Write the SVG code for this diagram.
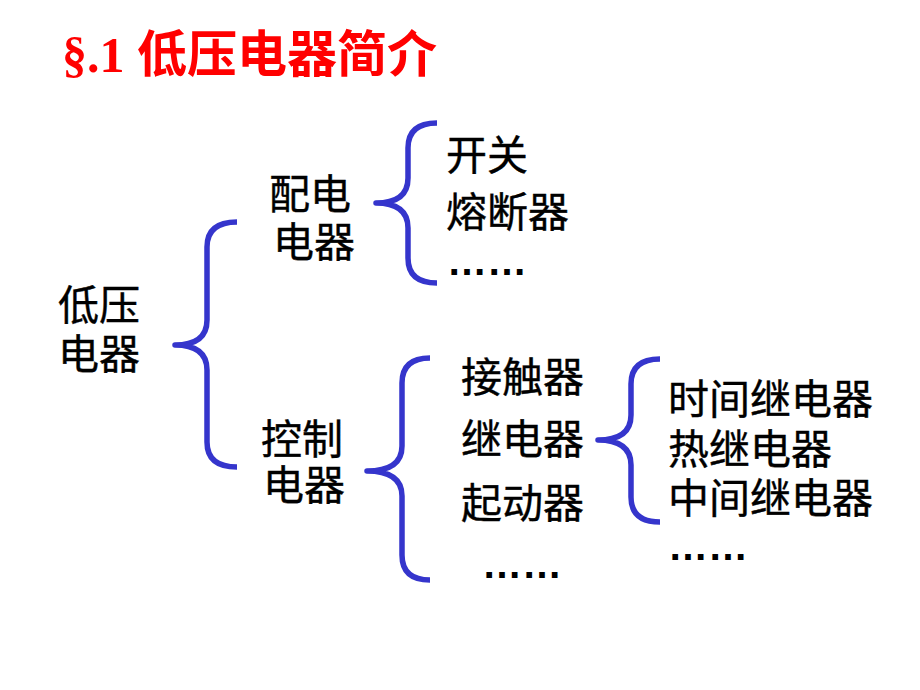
<svg xmlns="http://www.w3.org/2000/svg" width="920" height="690" viewBox="0 0 920 690">
<style>
.t{font-family:"Noto Sans CJK SC","Liberation Sans",sans-serif;font-size:41px;fill:#000;stroke:#000;stroke-width:0.4}
.d{font-family:"Liberation Sans",sans-serif;font-size:40px;font-weight:bold;fill:#000}
.title{font-family:"Liberation Serif","Noto Sans CJK SC",serif;font-size:50px;font-weight:bold;fill:#FF0000}
.br{fill:none;stroke:#3535CC;stroke-width:5.5;stroke-linejoin:round}
</style>
<rect width="920" height="690" fill="#fff"/>
<text class="title" x="62" y="72">§.1 低压电器简介</text>
<g id="connectors">
<path class="br" d="M237,222 Q207,222 207,247 L207,320 Q207,345 175,345 Q207,345 207,370 L207,442 Q207,467 237,467"/>
<path class="br" d="M437,123 Q408,123 408,148 L408,178 Q408,203 376,203 Q408,203 408,228 L408,258 Q408,283 437,283"/>
<path class="br" d="M430,358 Q402,358 402,383 L402,446 Q402,471 367,471 Q402,471 402,496 L402,555 Q402,580 430,580"/>
<path class="br" d="M660,359 Q631,359 631,384 L631,415 Q631,440 598,440 Q631,440 631,465 L631,497 Q631,522 660,522"/>
</g>
<g id="n-diya"><text class="t"><tspan x="58" y="320">低压</tspan><tspan x="58" y="369">电器</tspan></text></g>
<g id="n-peidian"><text class="t"><tspan x="269" y="209">配电</tspan><tspan x="273" y="257">电器</tspan></text></g>
<g id="n-kongzhi"><text class="t"><tspan x="261" y="454">控制</tspan><tspan x="263" y="500">电器</tspan></text></g>
<g id="n-kaiguan"><text class="t" x="446" y="170">开关</text></g>
<g id="n-rongduanqi"><text class="t" x="446" y="227">熔断器</text></g>
<g id="n-dots1"><text class="d" x="447" y="275">……</text></g>
<g id="n-jiechuqi"><text class="t" x="461" y="392">接触器</text></g>
<g id="n-jidianqi"><text class="t" x="461" y="454">继电器</text></g>
<g id="n-qidongqi"><text class="t" x="461" y="518">起动器</text></g>
<g id="n-dots2"><text class="d" x="482" y="578">……</text></g>
<g id="n-shijian"><text class="t" x="668" y="414">时间继电器</text></g>
<g id="n-re"><text class="t" x="668" y="464">热继电器</text></g>
<g id="n-zhongjian"><text class="t" x="668" y="513">中间继电器</text></g>
<g id="n-dots3"><text class="d" x="668" y="560">……</text></g>
</svg>
